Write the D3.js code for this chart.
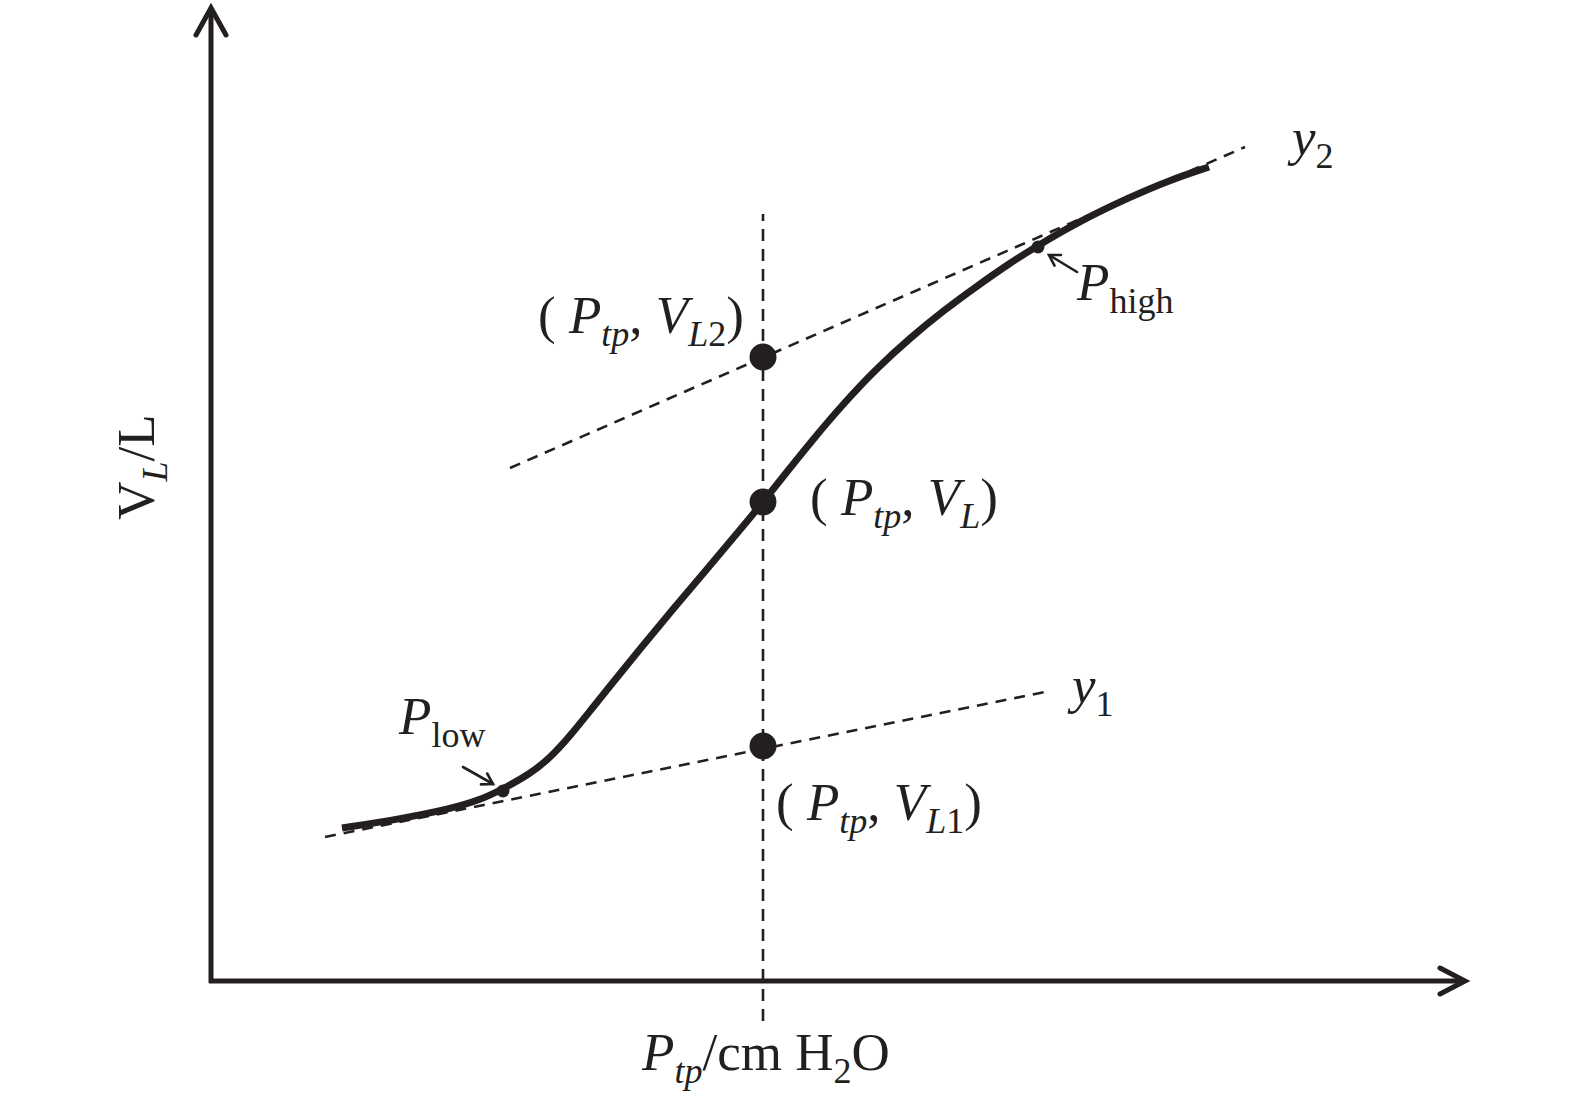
<!DOCTYPE html>
<html>
<head>
<meta charset="utf-8">
<script src="https://cdn.jsdelivr.net/npm/d3@7/dist/d3.min.js"></script>
<style>
  html, body { margin: 0; padding: 0; background: #fff; }
  svg { display: block; }
  text { font-family: "Liberation Serif", "Times New Roman", serif; fill: #231f20; }
</style>
</head>
<body>
<svg id="chart" width="1575" height="1104"></svg>
<script>
// ---- data (pressure in arbitrary cm H2O units, volume in arbitrary units) ----
const curveP = [13.2, 19.0, 24.0, 27.0, 29.1, 32.0, 34.0, 36.0, 38.0, 40.0, 43.0, 46.3, 49.7, 53.0, 55.3, 58.0, 60.0, 63.3, 66.7, 70.0, 73.3, 76.7, 80.0, 82.7, 87.0, 92.0, 96.0, 99.9];
const curveV = [15.0, 15.9, 16.9, 17.8, 18.8, 20.4, 22.0, 24.2, 26.7, 29.2, 32.9, 36.9, 40.9, 44.8, 47.6, 51.0, 53.5, 57.4, 61.0, 64.0, 66.7, 69.2, 71.5, 73.2, 75.7, 78.1, 79.8, 81.1];
const y1P = [11.5, 83.5];
const y1V = [14.1, 28.6];
const y2P = [30.0, 103.5];
const y2V = [51.0, 83.1];
const ptp = 55.3;
const verticalV = [-4.3, 76.4];
const markerNames = ["VL1", "VL", "VL2"];
const markerV = [23.2, 47.6, 62.1];
const inflectionNames = ["Plow", "Phigh"];
const inflectionP = [29.3, 82.8];
const inflectionV = [18.7, 73.1];
const pointerFromP = [25.3, 86.7];
const pointerFromV = [21.1, 70.6];
const pointerToP = [28.3, 83.9];
const pointerToV = [19.4, 72.3];

const W = 1575, H = 1104;
const ink = "#231f20";
const svg = d3.select("#chart");

const x = d3.scaleLinear().domain([0, 125]).range([210, 1460]);
const y = d3.scaleLinear().domain([0, 96]).range([978, 18]);

// ---- axes with open arrow heads ----
const ox = x(0.1), oy = y(-0.3);
const axisG = svg.append("g").attr("stroke", ink).attr("fill", "none")
  .attr("stroke-width", 5).attr("stroke-linecap", "butt");
axisG.append("line").attr("x1", ox).attr("y1", oy + 2).attr("x2", ox).attr("y2", y(96.8));
axisG.append("line").attr("x1", ox - 2).attr("y1", oy).attr("x2", x(125.2)).attr("y2", oy);
const tipY = y(97.0), tipX = x(125.5);
axisG.append("path")
  .attr("stroke-linejoin", "miter").attr("stroke-linecap", "round")
  .attr("d", `M${ox - 15},${tipY + 27} L${ox},${tipY} L${ox + 15},${tipY + 27}`);
axisG.append("path")
  .attr("stroke-linejoin", "miter").attr("stroke-linecap", "round")
  .attr("d", `M${tipX - 25},${oy - 13} L${tipX},${oy} L${tipX - 25},${oy + 13}`);

// ---- dashed lines ----
const dashG = svg.append("g").attr("stroke", ink).attr("fill", "none");
dashG.append("line")
  .attr("x1", x(ptp)).attr("x2", x(ptp))
  .attr("y1", y(verticalV[0])).attr("y2", y(verticalV[1]))
  .attr("stroke-width", 2.6).attr("stroke-dasharray", "12,8");
[[y1P, y1V], [y2P, y2V]].forEach(([ps, vs]) => {
  dashG.append("line")
    .attr("x1", x(ps[0])).attr("y1", y(vs[0]))
    .attr("x2", x(ps[1])).attr("y2", y(vs[1]))
    .attr("stroke-width", 2.6).attr("stroke-dasharray", "11,8");
});

// ---- S-shaped curve ----
const pts = curveP.map((p, i) => [p, curveV[i]]);
const line = d3.line().x(d => x(d[0])).y(d => y(d[1])).curve(d3.curveBasis);
svg.append("path").datum(pts)
  .attr("d", line)
  .attr("fill", "none").attr("stroke", ink)
  .attr("stroke-width", 7).attr("stroke-linecap", "butt")
  .attr("stroke-linejoin", "round");

// ---- markers ----
svg.append("g").selectAll("circle").data(markerV).join("circle")
  .attr("cx", x(ptp)).attr("cy", d => y(d)).attr("r", 13.5).attr("fill", ink);
svg.append("g").selectAll("circle").data(inflectionP).join("circle")
  .attr("cx", d => x(d)).attr("cy", (d, i) => y(inflectionV[i])).attr("r", 6.5).attr("fill", ink);

// ---- small pointer arrows ----
const ptrG = svg.append("g").attr("stroke", ink).attr("fill", "none").attr("stroke-width", 2.6)
  .attr("stroke-linecap", "round").attr("stroke-linejoin", "miter");
pointerFromP.forEach((p, i) => {
  const x1 = x(p), y1 = y(pointerFromV[i]), x2 = x(pointerToP[i]), y2 = y(pointerToV[i]);
  ptrG.append("line").attr("x1", x1).attr("y1", y1).attr("x2", x2).attr("y2", y2);
  const a = Math.atan2(y2 - y1, x2 - x1), L = 12, s = 0.55;
  ptrG.append("path").attr("d",
    `M${x2 - L * Math.cos(a - s)},${y2 - L * Math.sin(a - s)} L${x2},${y2} L${x2 - L * Math.cos(a + s)},${y2 - L * Math.sin(a + s)}`);
});

// ---- rich text helper ----
function rich(parent, px, py, parts, size, anchor) {
  const t = parent.append("text").attr("x", px).attr("y", py)
    .attr("font-size", size).attr("text-anchor", anchor || "start");
  let shift = 0;
  const subSize = size * 0.68, subShift = size * 0.24;
  parts.forEach(p => {
    const want = p.sub ? subShift : 0;
    const ts = t.append("tspan").text(p.t)
      .attr("font-style", p.i ? "italic" : "normal")
      .attr("font-size", p.sub ? subSize : size);
    if (want !== shift) { ts.attr("dy", want - shift); shift = want; }
  });
  return t;
}
const FS = 53;
const labels = svg.append("g");
// axis titles
rich(labels, 642, 1070, [
  {t: "P", i: true}, {t: "tp", i: true, sub: true}, {t: "/cm H"}, {t: "2", sub: true}, {t: "O"}
], FS);
const yl = labels.append("g").attr("transform", "translate(154,467) rotate(-90)");
rich(yl, 0, 0, [{t: "V"}, {t: "L", i: true, sub: true}, {t: "/L"}], FS, "middle");
// point labels
rich(labels, 538, 333, [
  {t: "( "}, {t: "P", i: true}, {t: "tp", i: true, sub: true}, {t: ", "}, {t: "V", i: true},
  {t: "L", i: true, sub: true}, {t: "2", sub: true}, {t: ")"}
], FS);
rich(labels, 810, 515, [
  {t: "( "}, {t: "P", i: true}, {t: "tp", i: true, sub: true}, {t: ", "}, {t: "V", i: true},
  {t: "L", i: true, sub: true}, {t: ")"}
], FS);
rich(labels, 776, 820, [
  {t: "( "}, {t: "P", i: true}, {t: "tp", i: true, sub: true}, {t: ", "}, {t: "V", i: true},
  {t: "L", i: true, sub: true}, {t: "1", sub: true}, {t: ")"}
], FS);
rich(labels, 1292, 155, [{t: "y", i: true}, {t: "2", sub: true}], FS);
rich(labels, 1072, 703, [{t: "y", i: true}, {t: "1", sub: true}], FS);
rich(labels, 399, 734, [{t: "P", i: true}, {t: "low", sub: true}], FS);
rich(labels, 1077, 300, [{t: "P", i: true}, {t: "high", sub: true}], FS);
</script>
</body>
</html>
